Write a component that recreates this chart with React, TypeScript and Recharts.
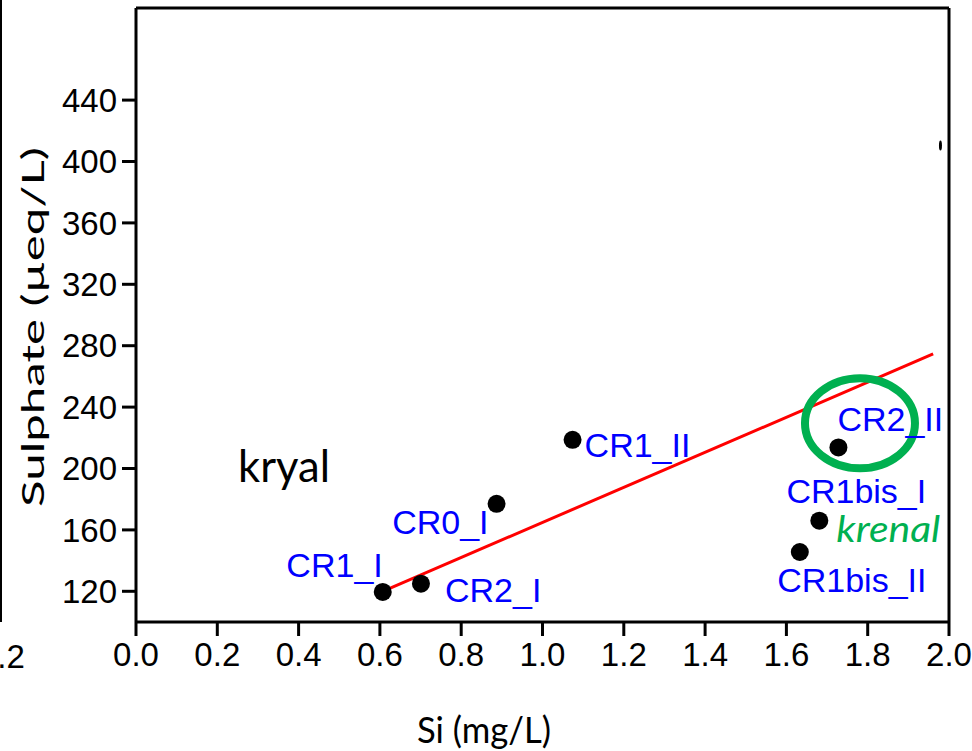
import React from 'react';
import { ScatterChart, Scatter, XAxis, YAxis, ReferenceLine, ReferenceDot } from 'recharts';

if (typeof document !== 'undefined') document.body.style.margin = '0';

const sampleNames = ['CR1_I', 'CR2_I', 'CR0_I', 'CR1_II', 'CR2_II', 'CR1bis_I', 'CR1bis_II'];
const siValues = [0.607, 0.701, 0.887, 1.074, 1.728, 1.681, 1.633];
const sulphateValues = [119.6, 125, 177, 218.7, 213.7, 166, 145.6];

const xTicks = [0, 0.2, 0.4, 0.6, 0.8, 1.0, 1.2, 1.4, 1.6, 1.8, 2.0];
const yTicks = [120, 160, 200, 240, 280, 320, 360, 400, 440];

// regression line end points (Si, sulphate)
const fitStart = { x: 0.607, y: 120 };
const fitEnd = { x: 1.961, y: 274.6 };

// partially visible point at the right edge
const edgePoint = [{ x: 1.979, y: 410.5 }];

const points = sampleNames.map((name, i) => ({ name, x: siValues[i], y: sulphateValues[i] }));

// label placement relative to each dot
const labelPos: Record<string, { dx: number; dy: number; anchor: 'start' | 'middle' | 'end' }> = {
  CR1_I: { dx: 0, dy: -27, anchor: 'end' },
  CR2_I: { dx: 24, dy: 6, anchor: 'start' },
  CR0_I: { dx: -8, dy: 18, anchor: 'end' },
  CR1_II: { dx: 12, dy: 5, anchor: 'start' },
  CR2_II: { dx: -1, dy: -28, anchor: 'start' },
  CR1bis_I: { dx: 37, dy: -30, anchor: 'middle' },
  CR1bis_II: { dx: 52, dy: 28, anchor: 'middle' },
};

const ARIAL = '"Liberation Sans", Arial, sans-serif';
const CALIBRI = 'Lato, "Open Sans", sans-serif';

const SampleDot = (props: any) => {
  const { cx, cy, payload } = props;
  const p = labelPos[payload.name];
  return (
    <g>
      <circle cx={cx} cy={cy} r={9} fill="#000" />
      <text x={cx + p.dx} y={cy + p.dy} textAnchor={p.anchor} dominantBaseline="central"
        fill="#0000ff" fontSize={34} fontFamily={ARIAL}>{payload.name}</text>
      {payload.name === 'CR1bis_I' && (
        <text x={cx + 17} y={cy + 7} dominantBaseline="central" fill="#00b050"
          fontSize={37} fontStyle="italic" fontFamily={CALIBRI}
          textLength={104} lengthAdjust="spacingAndGlyphs">krenal</text>
      )}
    </g>
  );
};

const EdgeDot = (props: any) => (
  <ellipse cx={props.cx} cy={props.cy} rx={1.5} ry={5} fill="#000" />
);

const Ring = (props: any) => (
  <ellipse cx={props.cx} cy={props.cy} rx={55} ry={45} fill="none" stroke="#00b050" strokeWidth={8} />
);

const KryalText = (props: any) => (
  <text x={props.cx} y={props.cy} dominantBaseline="central" fontSize={44} fill="#000"
    fontFamily={CALIBRI} textLength={92} lengthAdjust="spacingAndGlyphs">kryal</text>
);

const tickStyle = { fontSize: 33, fill: '#000', fontFamily: ARIAL };

export default function App() {
  return (
    <div style={{ position: 'relative', width: 972, height: 751, background: '#fff', overflow: 'hidden' }}>
      {/* edge of the neighbouring panel */}
      <div style={{ position: 'absolute', left: 0, top: 0, width: 2, height: 622, background: '#000' }} />
      <div style={{ position: 'absolute', left: -21, top: 638, fontSize: 33, fontFamily: ARIAL }}>0.2</div>
      <ScatterChart width={972} height={751} margin={{ top: 8, right: 23, left: 36, bottom: 69 }}>
        <XAxis type="number" dataKey="x" domain={[0, 2]} ticks={xTicks} height={60}
          tickFormatter={(v: number) => v.toFixed(1)} tick={tickStyle} tickSize={14} tickMargin={7}
          axisLine={{ stroke: '#000', strokeWidth: 3 }} tickLine={{ stroke: '#000', strokeWidth: 3 }}
          allowDataOverflow
          label={{
            content: ({ viewBox }: any) => (
              <text x={viewBox.x + viewBox.width * 0.428} y={viewBox.y + viewBox.height + 46}
                textAnchor="middle" dominantBaseline="central" fontSize={37} fontFamily={CALIBRI}
                textLength={134} lengthAdjust="spacingAndGlyphs">Si (mg/L)</text>
            ),
          }} />
        <YAxis type="number" dataKey="y" domain={[100, 500]} ticks={yTicks} width={100}
          tick={tickStyle} tickSize={14} tickMargin={5}
          axisLine={{ stroke: '#000', strokeWidth: 3 }} tickLine={{ stroke: '#000', strokeWidth: 3 }}
          allowDataOverflow
          label={{
            content: ({ viewBox }: any) => {
              const cx = viewBox.x - 4;
              const cy = viewBox.y + viewBox.height / 2 + 12;
              return (
                <text x={cx} y={cy} transform={`rotate(-90 ${cx} ${cy})`} textAnchor="middle"
                  dominantBaseline="central" fontSize={31} fontFamily={CALIBRI}
                  textLength={360} lengthAdjust="spacingAndGlyphs">Sulphate (µeq/L)</text>
              );
            },
          }} />
        <ReferenceLine y={500} stroke="#000" strokeWidth={3} />
        <ReferenceLine x={2} stroke="#000" strokeWidth={3} />
        <ReferenceLine segment={[fitStart, fitEnd]} stroke="#ff0000" strokeWidth={3} />
        <ReferenceDot x={1.781} y={229.5} shape={Ring} />
        <ReferenceDot x={0.251} y={202.4} shape={KryalText} />
        <Scatter data={points} shape={SampleDot} isAnimationActive={false} />
        <Scatter data={edgePoint} shape={EdgeDot} isAnimationActive={false} />
      </ScatterChart>
    </div>
  );
}
